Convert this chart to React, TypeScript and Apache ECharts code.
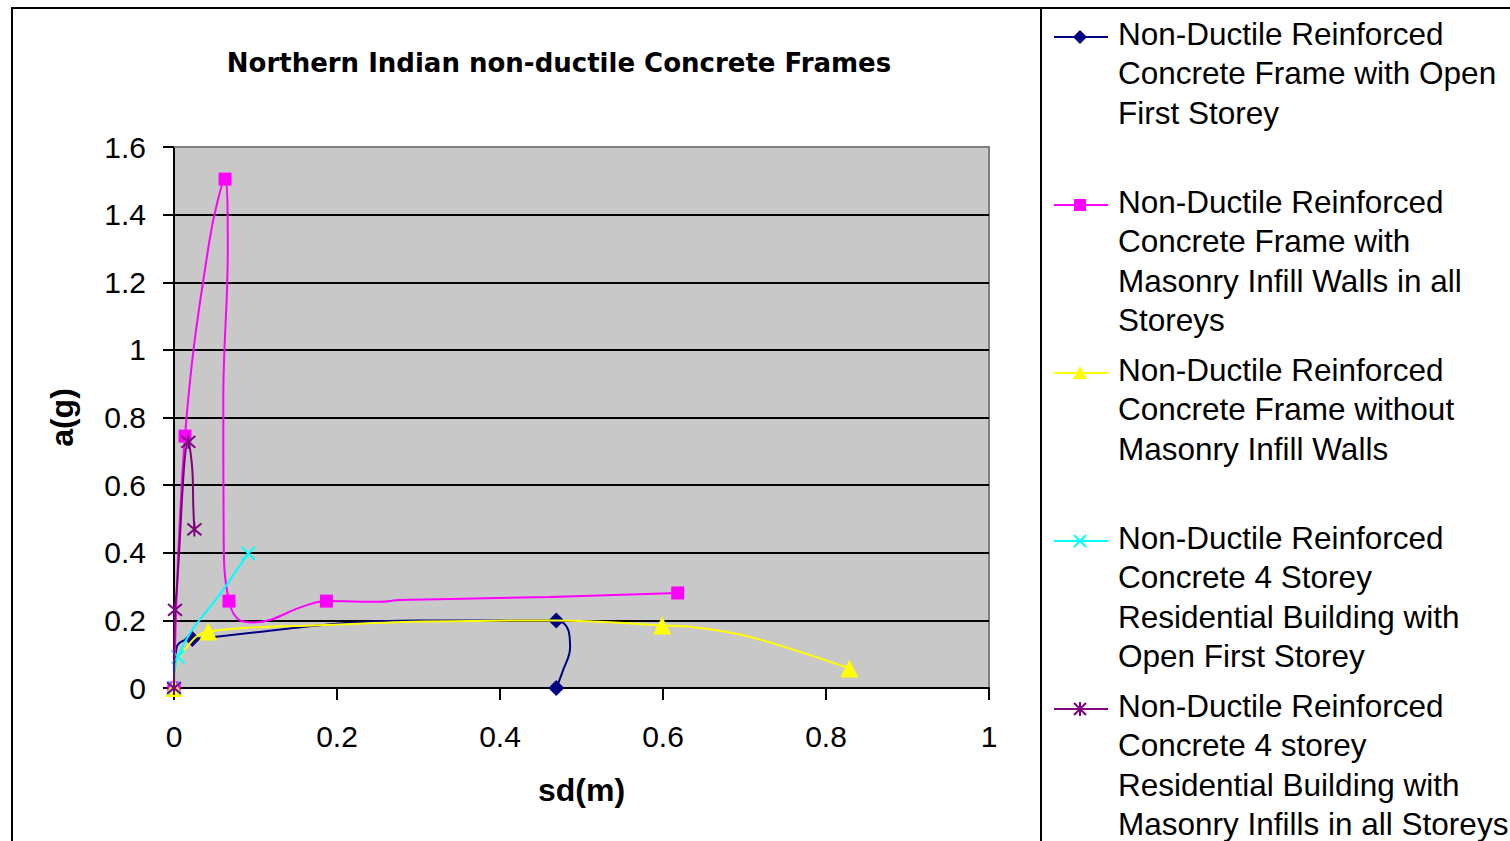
import React, { useEffect, useRef } from "react";
import * as echarts from "echarts";

// ---- data ----
const xTicks = [0, 0.2, 0.4, 0.6, 0.8, 1];
const yTicks = [0, 0.2, 0.4, 0.6, 0.8, 1, 1.2, 1.4, 1.6];

const openFirstX = [0, 0.003, 0.009, 0.0225, 0.3, 0.469, 0.484, 0.486, 0.477, 0.469];
const openFirstY = [0, 0.118, 0.137, 0.145, 0.2, 0.2, 0.17, 0.12, 0.05, 0];
const openFirstMark = [1, 0, 0, 1, 0, 1, 0, 0, 0, 1];

const infillAllX = [0, 0.0135, 0.043, 0.0626, 0.066, 0.0605, 0.061, 0.0675, 0.081, 0.097, 0.163, 0.187, 0.253, 0.277, 0.46, 0.618];
const infillAllY = [0, 0.745, 1.316, 1.505, 1.3, 0.85, 0.43, 0.257, 0.2, 0.194, 0.245, 0.257, 0.255, 0.26, 0.269, 0.281];
const infillAllMark = [1, 1, 0, 1, 0, 0, 0, 1, 0, 0, 0, 1, 0, 0, 0, 1];

const noInfillX = [0, 0.002, 0.007, 0.042, 0.187, 0.293, 0.392, 0.469, 0.599, 0.637, 0.707, 0.8286];
const noInfillY = [0, 0.053, 0.093, 0.167, 0.186, 0.196, 0.199, 0.2, 0.185, 0.18, 0.151, 0.058];
const noInfillMark = [1, 0, 0, 1, 0, 0, 0, 0, 1, 0, 0, 1];

const res4OpenX = [0, 0.005, 0.0646, 0.0912];
const res4OpenY = [0, 0.092, 0.305, 0.398];
const res4OpenMark = [1, 1, 0, 1];

const res4InfillX = [0, 0.0012, 0.003, 0.0176, 0.0225, 0.0237, 0.025];
const res4InfillY = [0, 0.231, 0.28, 0.728, 0.645, 0.536, 0.469];
const res4InfillMark = [1, 1, 0, 1, 0, 0, 1];

const seriesNames = [
  "Non-Ductile Reinforced\nConcrete Frame with Open\nFirst Storey",
  "Non-Ductile Reinforced\nConcrete Frame with\nMasonry Infill Walls in all\nStoreys",
  "Non-Ductile Reinforced\nConcrete Frame without\nMasonry Infill Walls",
  "Non-Ductile Reinforced\nConcrete 4 Storey\nResidential Building with\nOpen First Storey",
  "Non-Ductile Reinforced\nConcrete 4 storey\nResidential Building with\nMasonry Infills in all Storeys",
];
const seriesColors = ["#000080", "#FF00FF", "#FFFF00", "#00FFFF", "#800080"];
const seriesX = [openFirstX, infillAllX, noInfillX, res4OpenX, res4InfillX];
const seriesY = [openFirstY, infillAllY, noInfillY, res4OpenY, res4InfillY];
const seriesMarks = [openFirstMark, infillAllMark, noInfillMark, res4OpenMark, res4InfillMark];

const X_PATH = "path://M0,0L10,10M10,0L0,10";
const STAR_PATH = "path://M0,0L10,10M10,0L0,10M5,-1L5,11";
const seriesSymbols = ["diamond", "rect", "triangle", X_PATH, STAR_PATH];
const seriesSymbolSizes = [16, 13, 18, 13, 14];

const TITLE = "Northern Indian non-ductile Concrete Frames";

echarts.graphic.registerShape(
  "xmark",
  echarts.graphic.extendPath("M-6,-6L6,6M6,-6L-6,6", {})
);
echarts.graphic.registerShape(
  "starmark",
  echarts.graphic.extendPath("M-6,-6L6,6M6,-6L-6,6M0,-7L0,7", {})
);

function legendIcon(i: number, cx: number, cy: number) {
  const c = seriesColors[i];
  const items: any[] = [
    { type: "line", shape: { x1: cx - 26, y1: cy, x2: cx + 28, y2: cy }, style: { stroke: c, lineWidth: 2 } },
  ];
  if (i === 0) {
    items.push({ type: "polygon", shape: { points: [[cx, cy - 7], [cx + 7, cy], [cx, cy + 7], [cx - 7, cy]] }, style: { fill: c } });
  } else if (i === 1) {
    items.push({ type: "rect", shape: { x: cx - 6, y: cy - 6, width: 12, height: 12 }, style: { fill: c } });
  } else if (i === 2) {
    items.push({ type: "polygon", shape: { points: [[cx, cy - 7], [cx + 7, cy + 6], [cx - 7, cy + 6]] }, style: { fill: c } });
  } else if (i === 3) {
    items.push({ type: "xmark", x: cx, y: cy, style: { stroke: c, lineWidth: 2, fill: "none" } });
  } else {
    items.push({ type: "starmark", x: cx, y: cy, style: { stroke: c, lineWidth: 2, fill: "none" } });
  }
  return items;
}

export default function App() {
  const ref = useRef<HTMLDivElement>(null);
  useEffect(() => {
    if (!ref.current) return;
    const chart = echarts.init(ref.current, null, { renderer: "svg" });

    const series: any[] = seriesNames.map((name, i) => ({
      name,
      type: "line",
      smooth: 0.4,
      z: 3 + i,
      symbol: seriesSymbols[i],
      symbolSize: seriesSymbolSizes[i],
      showAllSymbol: true,
      lineStyle: { color: seriesColors[i], width: 2 },
      itemStyle: { color: seriesColors[i], borderColor: seriesColors[i], borderWidth: i >= 3 ? 2 : 0 },
      data: seriesX[i].map((x, k) =>
        seriesMarks[i][k] ? { value: [x, seriesY[i][k]] } : { value: [x, seriesY[i][k]], symbol: "none" }
      ),
    }));

    const legendGraphics: any[] = [];
    seriesNames.forEach((name, i) => {
      const cy = 37 + 168 * i;
      legendGraphics.push(...legendIcon(i, 1080, cy));
      legendGraphics.push({
        type: "text",
        x: 1118,
        y: cy - 23,
        style: {
          text: name,
          fill: "#000",
          font: "31.5px 'Liberation Sans', Arial, sans-serif",
          lineHeight: 39.5,
          verticalAlign: "top",
          textAlign: "left",
        },
      });
    });

    const labelFont = "'Liberation Sans', Arial, sans-serif";

    chart.setOption({
      animation: false,
      backgroundColor: "#ffffff",
      title: {
        text: TITLE,
        left: 554,
        top: 45,
        textAlign: "center",
        textStyle: { fontFamily: "'DejaVu Sans', sans-serif", fontWeight: "bold", fontSize: 26, color: "#000" },
      },
      grid: {
        left: 174,
        top: 147,
        right: 521,
        bottom: 153,
        show: true,
        backgroundColor: "#C8C8C8",
        borderColor: "#808080",
        borderWidth: 2,
      },
      xAxis: {
        type: "value",
        min: 0,
        max: 1,
        interval: 0.2,
        name: "sd(m)",
        nameLocation: "middle",
        nameGap: 86,
        nameTextStyle: { fontFamily: labelFont, fontWeight: "bold", fontSize: 32, color: "#000" },
        axisLine: { show: true, lineStyle: { color: "#000", width: 2 } },
        axisTick: { show: true, length: 12, lineStyle: { color: "#000", width: 2 } },
        axisLabel: {
          margin: 33,
          fontFamily: labelFont,
          fontSize: 30,
          color: "#000",
          formatter: (v: number) => String(xTicks.find((t) => Math.abs(t - v) < 1e-9) ?? v),
        },
        splitLine: { show: false },
      },
      yAxis: {
        type: "value",
        min: 0,
        max: 1.6,
        interval: 0.2,
        name: "a(g)",
        nameLocation: "middle",
        nameRotate: 90,
        nameGap: 96,
        nameTextStyle: { fontFamily: labelFont, fontWeight: "bold", fontSize: 32, color: "#000" },
        axisLine: { show: true, lineStyle: { color: "#000", width: 2 } },
        axisTick: { show: true, length: 11, lineStyle: { color: "#000", width: 2 } },
        axisLabel: {
          margin: 28,
          fontFamily: labelFont,
          fontSize: 30,
          color: "#000",
          formatter: (v: number) => String(yTicks.find((t) => Math.abs(t - v) < 1e-9) ?? v),
        },
        splitLine: { show: true, lineStyle: { color: "#000", width: 2 } },
      },
      graphic: [
        { type: "line", z: 1, shape: { x1: 174, y1: 147, x2: 990, y2: 147 }, style: { stroke: "#808080", lineWidth: 2 } },
        { type: "rect", z: 10, shape: { x: 12, y: 8, width: 1600, height: 900 }, style: { fill: "none", stroke: "#000", lineWidth: 2 } },
        { type: "line", z: 10, shape: { x1: 1041, y1: 8, x2: 1041, y2: 841 }, style: { stroke: "#000", lineWidth: 2 } },
        ...legendGraphics.map((g) => ({ z: 10, ...g })),
      ],
      series,
    });
    return () => chart.dispose();
  }, []);
  return <div ref={ref} style={{ position: "fixed", left: 0, top: 0, width: 1510, height: 841 }} />;
}
